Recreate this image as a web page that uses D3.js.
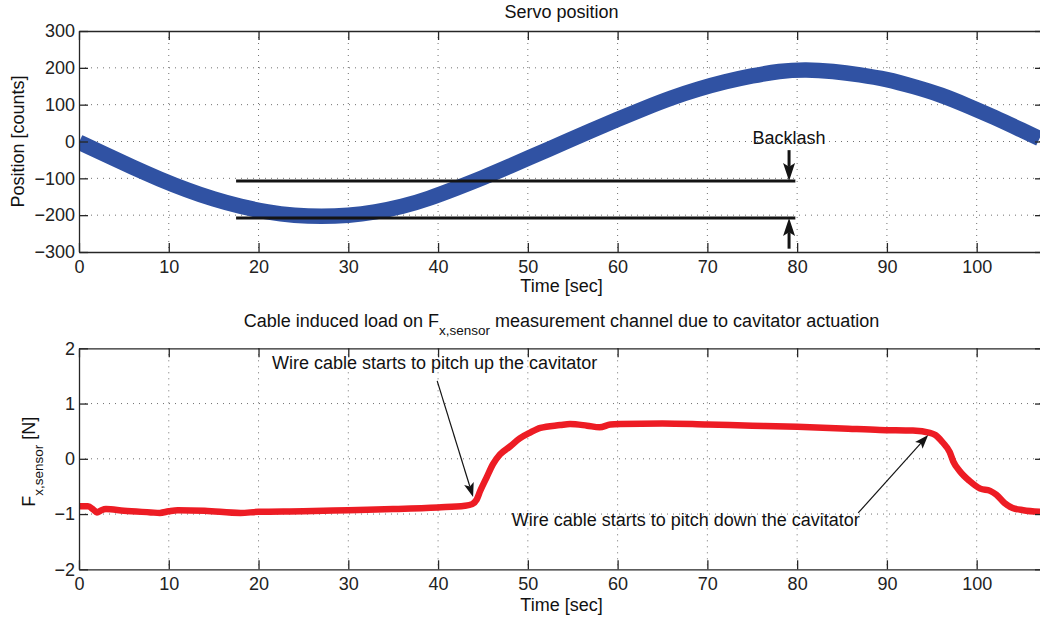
<!DOCTYPE html>
<html>
<head>
<meta charset="utf-8">
<script src="https://cdn.jsdelivr.net/npm/d3@7"></script>
<style>
  html, body { margin: 0; padding: 0; background: #fff; }
  svg { display: block; font-family: "Liberation Sans", Arial, Helvetica, sans-serif; }
</style>
</head>
<body>
<svg id="chart" width="1040" height="617"></svg>
<script>
// ---- data ----
const xTicks = [0, 10, 20, 30, 40, 50, 60, 70, 80, 90, 100];
const posTicks = [-300, -200, -100, 0, 100, 200, 300];
const forceTicks = [-2, -1, 0, 1, 2];

// Servo position [counts] vs time [sec]
const servoTime = [0, 3, 6, 9, 12, 15, 18, 21, 24, 27, 30, 33, 36, 39, 42, 45, 48, 51, 54, 57,
                   60, 63, 66, 69, 72, 75, 78, 81, 84, 87, 90, 93, 96, 99, 102, 105, 107];
const servoPos  = [-2, -36, -70, -102, -131, -156, -176, -191, -200, -203, -200, -191, -176, -154,
                   -127, -98, -67, -35, -3, 29, 60, 90, 118, 142, 162, 178, 190, 194, 190, 181,
                   168, 149, 126, 97, 65, 31, 8];

// Backlash reference levels [counts] and their time span [sec]
const backlashLevels = [-107, -208];
const backlashSpan = [17.5, 79.8];

// Cable induced load on Fx,sensor [N] vs time [sec]
const forceTime = [0, 1, 1.6, 2, 2.5, 3, 5, 8, 9, 10, 11, 14, 18, 20, 25, 30, 35, 40, 43, 43.8,
                   44.3, 44.7, 45.4, 46.1, 46.9, 48, 49.1, 50.2, 51.4, 53.6, 54.7, 56.6, 58, 59.2,
                   60.3, 65, 70, 75, 80, 85, 89.2, 92.9, 94.8, 95.4, 96.2, 97, 97.4, 98.1, 99.2,
                   100.4, 101.5, 102.2, 103.1, 104, 105.2, 107];
const forceVal  = [-0.86, -0.86, -0.92, -0.97, -0.93, -0.91, -0.94, -0.97, -0.98, -0.95, -0.93,
                   -0.94, -0.98, -0.96, -0.95, -0.93, -0.91, -0.88, -0.85, -0.82, -0.74, -0.58,
                   -0.34, -0.10, 0.08, 0.22, 0.37, 0.47, 0.56, 0.61, 0.63, 0.60, 0.57, 0.62,
                   0.63, 0.64, 0.62, 0.60, 0.58, 0.55, 0.52, 0.51, 0.47, 0.43, 0.30, 0.12,
                   -0.05, -0.22, -0.40, -0.54, -0.58, -0.65, -0.80, -0.89, -0.93, -0.96];

// ---- layout ----
const svg = d3.select("#chart");
const FONT = 18;
const SUB = 13.5;
const left = 79, right = 1044;
const xDomain = [0, 107.5];
const panels = [
  { top: 31, bottom: 252, domain: [-300, 300], ticks: posTicks },
  { top: 348.3, bottom: 569.3, domain: [-2, 2], ticks: forceTicks }
];
panels.forEach(p => {
  p.x = d3.scaleLinear().domain(xDomain).range([left, right]);
  p.y = d3.scaleLinear().domain(p.domain).range([p.bottom, p.top]);
});

const defs = svg.append("defs");
const fmt = d3.format("d");

function drawFrame(p, idx) {
  const g = svg.append("g");
  const clipId = "clip" + idx;
  defs.append("clipPath").attr("id", clipId)
    .append("rect").attr("x", left).attr("y", p.top)
    .attr("width", right - left).attr("height", p.bottom - p.top);

  // dotted grid
  const grid = g.append("g").attr("stroke", "#707070").attr("stroke-width", 1)
    .attr("stroke-dasharray", "1,5");
  xTicks.filter(t => t > xDomain[0] && t < xDomain[1]).forEach(t => {
    grid.append("line").attr("x1", p.x(t)).attr("x2", p.x(t))
      .attr("y1", p.top).attr("y2", p.bottom);
  });
  p.ticks.filter(t => t > p.domain[0] && t < p.domain[1]).forEach(t => {
    grid.append("line").attr("x1", left).attr("x2", right)
      .attr("y1", p.y(t)).attr("y2", p.y(t));
  });

  p.plot = g.append("g").attr("clip-path", `url(#${clipId})`);

  // axes with inward ticks on all four sides
  const axes = svg.append("g").attr("class", "axes");
  const ax = [
    axes.append("g").attr("transform", `translate(0,${p.bottom})`)
      .call(d3.axisBottom(p.x).tickValues(xTicks).tickFormat(fmt).tickSizeInner(-9).tickSizeOuter(0).tickPadding(8)),
    axes.append("g").attr("transform", `translate(0,${p.top})`)
      .call(d3.axisTop(p.x).tickValues(xTicks).tickSizeInner(-9).tickSizeOuter(0).tickFormat("")),
    axes.append("g").attr("transform", `translate(${left},0)`)
      .call(d3.axisLeft(p.y).tickValues(p.ticks).tickFormat(fmt).tickSizeInner(-9).tickSizeOuter(0).tickPadding(4)),
    axes.append("g").attr("transform", `translate(${right},0)`)
      .call(d3.axisRight(p.y).tickValues(p.ticks).tickSizeInner(-9).tickSizeOuter(0).tickFormat(""))
  ];
  ax.forEach(a => {
    a.select(".domain").attr("stroke", "#262626").attr("stroke-width", 1.3);
    a.selectAll(".tick line").attr("stroke", "#262626").attr("stroke-width", 1.3);
    a.selectAll(".tick text").attr("font-size", FONT).attr("fill", "#222")
      .attr("font-family", "Liberation Sans, Arial, sans-serif");
  });
}

panels.forEach(drawFrame);

// ---- top panel: servo position ----
const P0 = panels[0];
P0.plot.append("path")
  .datum(servoTime.map((t, i) => [t, servoPos[i]]))
  .attr("fill", "none")
  .attr("stroke", "#3052a3")
  .attr("stroke-width", 15.5)
  .attr("stroke-linejoin", "round")
  .attr("d", d3.line().x(d => P0.x(d[0])).y(d => P0.y(d[1])).curve(d3.curveNatural));

backlashLevels.forEach(v => {
  svg.append("line")
    .attr("x1", P0.x(backlashSpan[0])).attr("x2", P0.x(backlashSpan[1]))
    .attr("y1", P0.y(v)).attr("y2", P0.y(v))
    .attr("stroke", "#141414").attr("stroke-width", 3);
});

// arrow with notched head, given start and tip in pixels
function arrow(x1, y1, x2, y2, len, wid, sw) {
  const dx = x2 - x1, dy = y2 - y1, L = Math.hypot(dx, dy);
  const ux = dx / L, uy = dy / L, nx = -uy, ny = ux;
  const bx = x2 - ux * len, by = y2 - uy * len;
  const mx = x2 - ux * len * 0.78, my = y2 - uy * len * 0.78;
  svg.append("line").attr("x1", x1).attr("y1", y1).attr("x2", mx).attr("y2", my)
    .attr("stroke", "#141414").attr("stroke-width", sw);
  svg.append("path")
    .attr("d", `M${x2},${y2}L${bx + nx * wid / 2},${by + ny * wid / 2}L${mx},${my}L${bx - nx * wid / 2},${by - ny * wid / 2}Z`)
    .attr("fill", "#141414");
}

// backlash arrows
const backlashArrowT = 79.1;
arrow(P0.x(backlashArrowT), P0.y(-23.5), P0.x(backlashArrowT), P0.y(backlashLevels[0]), 18, 12, 3);
arrow(P0.x(backlashArrowT), P0.y(-291), P0.x(backlashArrowT), P0.y(backlashLevels[1]), 18, 12, 3);
svg.append("text").attr("x", P0.x(backlashArrowT)).attr("y", P0.y(-6))
  .attr("text-anchor", "middle").attr("font-size", FONT).attr("fill", "#111")
  .text("Backlash");

// ---- bottom panel: force ----
const P1 = panels[1];
P1.plot.append("path")
  .datum(forceTime.map((t, i) => [t, forceVal[i]]))
  .attr("fill", "none")
  .attr("stroke", "#ed1c24")
  .attr("stroke-width", 6.5)
  .attr("stroke-linejoin", "round")
  .attr("stroke-linecap", "round")
  .attr("d", d3.line().x(d => P1.x(d[0])).y(d => P1.y(d[1])).curve(d3.curveMonotoneX));

// annotations
arrow(P1.x(39.9), P1.y(1.41), P1.x(43.9), P1.y(-0.69), 14, 10, 1.2);
arrow(P1.x(86.8), P1.y(-0.98), P1.x(94.6), P1.y(0.43), 14, 10, 1.2);
svg.append("text").attr("x", P1.x(21.5)).attr("y", P1.y(1.63))
  .attr("font-size", FONT).attr("fill", "#111")
  .text("Wire cable starts to pitch up the cavitator");
svg.append("text").attr("x", P1.x(48.2)).attr("y", P1.y(-1.22))
  .attr("font-size", FONT).attr("fill", "#111")
  .text("Wire cable starts to pitch down the cavitator");

// ---- titles and axis labels ----
const cx = (left + right) / 2;
svg.append("text").attr("x", cx).attr("y", 18).attr("text-anchor", "middle")
  .attr("font-size", FONT).attr("fill", "#111").text("Servo position");

const t2 = svg.append("text").attr("x", cx).attr("y", 327).attr("text-anchor", "middle")
  .attr("font-size", FONT).attr("fill", "#111");
t2.append("tspan").text("Cable induced load on F");
t2.append("tspan").attr("font-size", SUB).attr("dy", 8).text("x,sensor");
t2.append("tspan").attr("dy", -8).text(" measurement channel due to cavitator actuation");

svg.append("text").attr("x", cx).attr("y", 292).attr("text-anchor", "middle")
  .attr("font-size", FONT).attr("fill", "#111").text("Time [sec]");
svg.append("text").attr("x", cx).attr("y", 611).attr("text-anchor", "middle")
  .attr("font-size", FONT).attr("fill", "#111").text("Time [sec]");

svg.append("text")
  .attr("transform", `translate(24,${(P0.top + P0.bottom) / 2}) rotate(-90)`)
  .attr("text-anchor", "middle").attr("font-size", FONT).attr("fill", "#111")
  .text("Position [counts]");

const yl = svg.append("text")
  .attr("transform", `translate(35,${(P1.top + P1.bottom) / 2 + 3}) rotate(-90)`)
  .attr("text-anchor", "middle").attr("font-size", FONT).attr("fill", "#111");
yl.append("tspan").text("F");
yl.append("tspan").attr("font-size", SUB).attr("dy", 8).text("x,sensor");
yl.append("tspan").attr("dy", -8).text(" [N]");
</script>
</body>
</html>
